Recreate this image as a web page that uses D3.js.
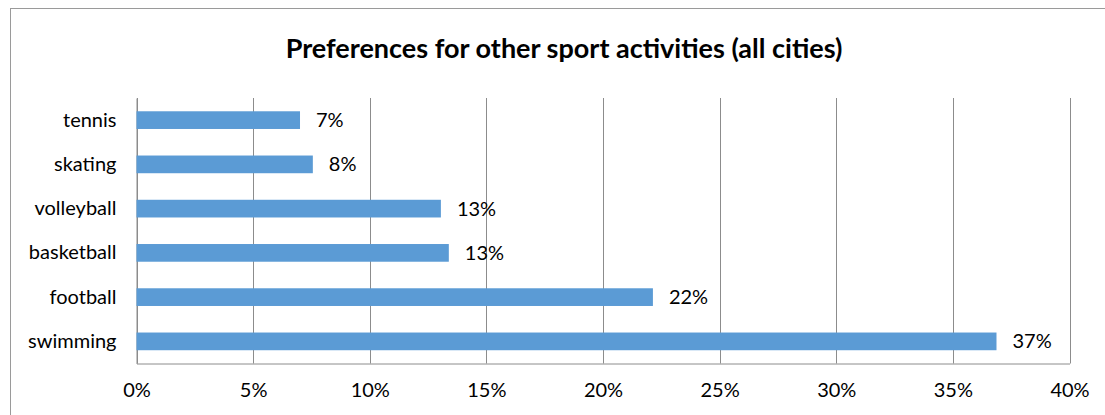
<!DOCTYPE html>
<html><head><meta charset="utf-8">
<script src="https://cdn.jsdelivr.net/npm/d3@7"></script>
<style>
html,body{margin:0;padding:0;background:#fff;}
svg{display:block;font-family:Lato,"Open Sans",sans-serif;}
</style></head>
<body><svg id="c" width="1105" height="415"></svg>
<script>
const title = "Preferences for other sport activities (all cities)";
const categories = ["tennis","skating","volleyball","basketball","football","swimming"];
const values = [7.01, 7.56, 13.05, 13.39, 22.14, 36.87];
const valueLabels = ["7%","8%","13%","13%","22%","37%"];
const ticks = [0,5,10,15,20,25,30,35,40];

const svg = d3.select("#c");
const L = 136.5, R = 1069.5, T = 98, B = 363.5;
const FS = 20;

svg.append("rect").attr("x",10.5).attr("y",8.5).attr("width",1110).attr("height",420)
  .attr("fill","#fff").attr("stroke","#9a9a9a").attr("stroke-width",1);

svg.append("text").attr("x",564).attr("y",58).attr("text-anchor","middle")
  .attr("font-size",27).attr("font-weight","bold").attr("fill","#000").text(title);

const x = d3.scaleLinear().domain([0,40]).range([L,R]);
const y = d3.scaleBand().domain(categories).range([T,B]).paddingInner(0.6).paddingOuter(0.3);

// gridlines
svg.append("g").selectAll("line").data(ticks).join("line")
  .attr("x1",d=>Math.round(x(d))+0.5).attr("x2",d=>Math.round(x(d))+0.5)
  .attr("y1",T).attr("y2",B).attr("stroke","#8c8c8c").attr("stroke-width",1);

// x axis
const xAxis = d3.axisBottom(x).tickValues(ticks).tickFormat(d=>d+"%").tickSize(0).tickPadding(19);
const gx = svg.append("g").attr("transform",`translate(0,${B})`).call(xAxis);
gx.select(".domain").attr("stroke","#8c8c8c");
gx.selectAll("text").attr("font-size",FS).attr("fill","#000").attr("font-family","Lato");

// y axis
const yAxis = d3.axisLeft(y).tickSize(0).tickPadding(20);
const gy = svg.append("g").attr("transform",`translate(${L},0)`).call(yAxis);
gy.select(".domain").attr("stroke","#8c8c8c");
gy.selectAll("text").attr("font-size",FS).attr("fill","#000").attr("font-family","Lato");

// bars
svg.append("g").selectAll("rect").data(categories).join("rect")
  .attr("x",x(0)).attr("y",d=>y(d)).attr("height",y.bandwidth())
  .attr("width",(d,i)=>x(values[i])-x(0)).attr("fill","#5B9BD5");

// labels
svg.append("g").selectAll("text").data(categories).join("text")
  .attr("x",(d,i)=>x(values[i])+16).attr("y",d=>y(d)+y.bandwidth()/2)
  .attr("dy","0.35em").attr("font-size",FS).attr("fill","#000")
  .text((d,i)=>valueLabels[i]);
</script></body></html>
